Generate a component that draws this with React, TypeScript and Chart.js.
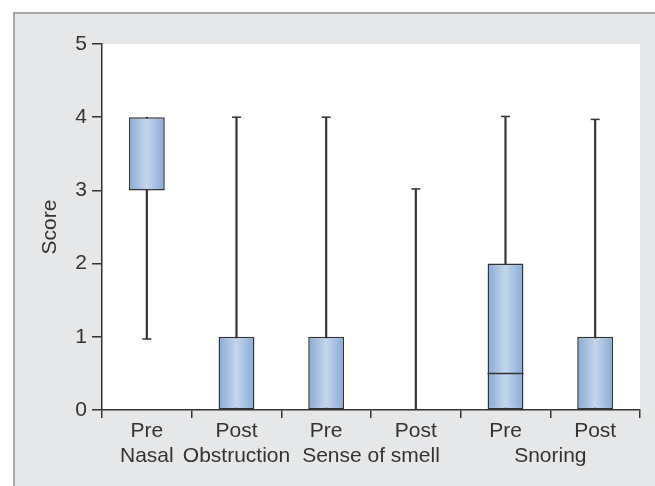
import React, { useEffect, useRef } from "react";
import { Chart, registerables } from "chart.js";

Chart.register(...registerables);

// ---- data ----
const categories = ["Pre", "Post", "Pre", "Post", "Pre", "Post"];
const groupLabels = ["Nasal", "Obstruction", "Sense of smell", "Snoring"];
const groupPositions = [0, 1, 2.5, 4.5];
const q1 = [3, 0, 0, null, 0, 0];
const q3 = [4, 1, 1, null, 2, 1];
const medians = [null, null, null, null, 0.5, null];
const whiskerLow = [0.97, 0, 0, 0, 0, 0];
const whiskerHigh = [4, 4, 4, 3.02, 4.01, 3.97];
const yTicks = [0, 1, 2, 3, 4, 5];

const FONT = "'Liberation Sans', Arial, Helvetica, sans-serif";
const INK = "#333333";
const BOX_FRACTION = 0.4;
const FS = 21;

const boxData = q1.map((v, i) => (v == null || q3[i] == null ? null : [v, q3[i] as number]));
const whiskerData = whiskerLow.map((v, i) => [v, whiskerHigh[i]]);
const capTop = whiskerHigh.map((v, i) => (q3[i] == null || v > (q3[i] as number) ? v : null));
const capBottom = whiskerLow.map((v, i) => (v > 0 && (q1[i] == null || v < (q1[i] as number)) ? v : null));

const bgPlugin = {
  id: "plotBg",
  beforeDraw(chart: any) {
    const { ctx, chartArea: a } = chart;
    ctx.save();
    ctx.fillStyle = "#ffffff";
    ctx.fillRect(a.left, a.top, a.right - a.left, a.bottom - a.top);
    ctx.restore();
  },
};

export default function App() {
  const ref = useRef<HTMLCanvasElement | null>(null);

  useEffect(() => {
    if (!ref.current) return;
    const boxHalf = (c: any) => {
      const xs = c.chart.scales.x;
      const w = xs ? ((xs.width / categories.length) * BOX_FRACTION) / 2 : NaN;
      return isFinite(w) && w > 0 ? w : 18;
    };
    const chart = new Chart(ref.current, {
      type: "bar",
      data: {
        labels: categories,
        datasets: [
          {
            type: "bar",
            label: "box",
            data: boxData as any,
            grouped: false,
            order: 2,
            barPercentage: BOX_FRACTION,
            categoryPercentage: 1,
            borderColor: INK,
            borderWidth: 1.5,
            borderSkipped: false,
            backgroundColor: (c: any) => {
              const chart = c.chart;
              const xs = chart.scales.x;
              if (!xs || c.type !== "data") return "#a9c1e0";
              const cx = xs.getPixelForValue(c.dataIndex);
              const w = (xs.width / categories.length) * BOX_FRACTION;
              if (!isFinite(cx) || !isFinite(w) || w <= 0) return "#a9c1e0";
              const g = chart.ctx.createLinearGradient(cx - w / 2, 0, cx + w / 2, 0);
              g.addColorStop(0, "#86aad6");
              g.addColorStop(0.5, "#c4d6eb");
              g.addColorStop(1, "#86aad6");
              return g;
            },
          } as any,
          {
            type: "bar",
            label: "whisker",
            data: whiskerData as any,
            grouped: false,
            order: 3,
            barThickness: 1.5,
            backgroundColor: INK,
            borderWidth: 0,
          } as any,
          {
            type: "line",
            label: "capTop",
            data: capTop as any,
            showLine: false,
            order: 0,
            pointStyle: "line",
            pointRadius: 4.5,
            pointHoverRadius: 4.5,
            pointBorderColor: INK,
            pointBorderWidth: 1.5,
          } as any,
          {
            type: "line",
            label: "capBottom",
            data: capBottom as any,
            showLine: false,
            order: 0,
            pointStyle: "line",
            pointRadius: 4.5,
            pointHoverRadius: 4.5,
            pointBorderColor: INK,
            pointBorderWidth: 1.5,
          } as any,
          {
            type: "line",
            label: "median",
            data: medians as any,
            showLine: false,
            order: 0,
            pointStyle: "line",
            pointRadius: boxHalf,
            pointHoverRadius: boxHalf,
            pointBorderColor: INK,
            pointBorderWidth: 1.5,
          } as any,
        ],
      },
      options: {
        animation: false,
        responsive: false,
        maintainAspectRatio: false,
        events: [],
        layout: { autoPadding: false, padding: { top: 44, right: 15, left: 0, bottom: 0 } },
        plugins: { legend: { display: false }, tooltip: { enabled: false } },
        scales: {
          x: {
            type: "category",
            offset: true,
            ticks: { color: INK, font: { size: FS, family: FONT }, padding: 1, maxRotation: 0, autoSkip: false },
            grid: { drawOnChartArea: false, tickLength: 8, color: INK, lineWidth: 1.5, offset: true },
            border: { color: INK, width: 1.5 },
            afterFit: (s: any) => {
              s.height = 34;
              s.paddingLeft = 0;
              s.paddingRight = 0;
            },
          },
          x2: {
            type: "linear",
            position: "bottom",
            offset: false,
            bounds: "data",
            min: -0.5,
            max: 5.5,
            afterBuildTicks: (s: any) => {
              s.ticks = groupPositions.map((v) => ({ value: v }));
            },
            ticks: {
              callback: (_v: any, i: number) => groupLabels[i],
              color: INK,
              font: { size: FS, family: FONT },
              padding: 0,
              maxRotation: 0,
              autoSkip: false,
            },
            grid: { display: false, drawTicks: false, offset: false },
            border: { display: false },
            afterFit: (s: any) => {
              s.height = 42;
              s.paddingLeft = 0;
              s.paddingRight = 0;
            },
          },
          y: {
            min: 0,
            max: 5,
            afterBuildTicks: (s: any) => {
              s.ticks = yTicks.map((v) => ({ value: v }));
            },
            ticks: { color: INK, font: { size: FS, family: FONT }, padding: 5 },
            grid: { drawOnChartArea: false, tickLength: 10, color: INK, lineWidth: 1.5 },
            border: { color: INK, width: 1.5 },
            title: {
              display: true,
              text: "Score",
              color: INK,
              font: { size: FS, family: FONT },
              padding: { top: 38, bottom: 0 },
            },
            afterFit: (s: any) => {
              s.width = 102;
            },
          },
        },
      } as any,
      plugins: [bgPlugin],
    });
    return () => chart.destroy();
  }, []);

  return (
    <div style={{ position: "absolute", left: 0, top: 0, width: 655, height: 486, background: "#ffffff", overflow: "hidden" }}>
      <div
        style={{
          position: "absolute",
          left: 13,
          top: 12,
          right: 0,
          bottom: 0,
          background: "#e6e7e8",
          borderLeft: "2px solid #a6a7a9",
          borderTop: "2px solid #a6a7a9",
        }}
      />
      <canvas ref={ref} width={655} height={486} style={{ position: "absolute", left: 0, top: 0, width: 655, height: 486 }} />
    </div>
  );
}
